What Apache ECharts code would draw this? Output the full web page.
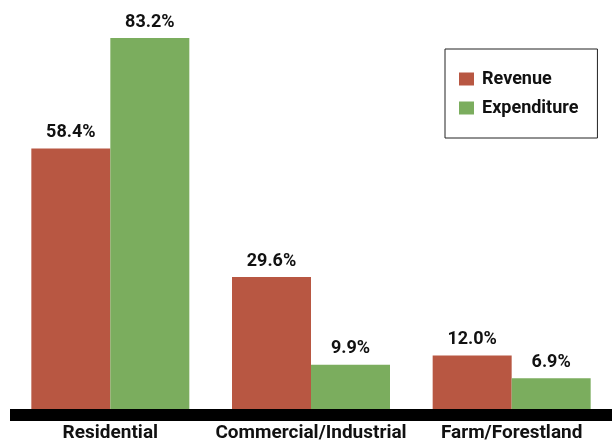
<!DOCTYPE html>
<html>
<head>
<meta charset="utf-8">
<script src="https://cdn.jsdelivr.net/npm/echarts@6/dist/echarts.min.js"></script>
<style>
html,body{margin:0;padding:0;background:#fff;}
#c{width:612px;height:445px;}
</style>
</head>
<body>
<div id="c"></div>
<script>
var categories = ['Residential', 'Commercial/Industrial', 'Farm/Forestland'];
var revenue = [58.4, 29.6, 12.0];
var expenditure = [83.2, 9.9, 6.9];
var seriesNames = ['Revenue', 'Expenditure'];

var FONT = 'Roboto, "Liberation Sans", Arial, sans-serif';
var chart = echarts.init(document.getElementById('c'));
var labelOpt = {
  show: true,
  position: 'top',
  distance: 7,
  fontFamily: FONT,
  fontWeight: 'bold',
  fontSize: 18,
  color: '#111',
  formatter: function (p) { return p.value.toFixed(1) + '%'; }
};
chart.setOption({
  animation: false,
  backgroundColor: '#fff',
  grid: { left: 10, right: 0, top: 38, bottom: 36 },
  legend: {
    orient: 'vertical',
    left: 445,
    top: 49,
    padding: [21, 19, 21, 14],
    itemWidth: 15,
    itemHeight: 13,
    itemGap: 11,
    borderColor: '#222',
    borderWidth: 1,
    icon: 'rect',
    textStyle: { fontFamily: FONT, fontWeight: 'bold', fontSize: 18, color: '#111', padding: [0, 0, 0, 3] },
    data: seriesNames
  },
  xAxis: {
    type: 'category',
    data: categories,
    offset: 6,
    axisLine: { onZero: false, lineStyle: { color: '#000', width: 12, cap: 'butt' } },
    axisTick: { show: false },
    axisLabel: { interval: 0, margin: 9, fontFamily: FONT, fontWeight: 'bold', fontSize: 19, color: '#111' }
  },
  yAxis: {
    type: 'value',
    min: 0,
    max: 83.2,
    show: false,
    splitLine: { show: false }
  },
  series: [
    {
      name: seriesNames[0], type: 'bar', data: revenue, barWidth: 79, barGap: '0%',
      itemStyle: { color: '#B85742' }, label: labelOpt
    },
    {
      name: seriesNames[1], type: 'bar', data: expenditure, barWidth: 79, barGap: '0%',
      itemStyle: { color: '#7BAD5E' }, label: labelOpt
    }
  ]
});
</script>
</body>
</html>
